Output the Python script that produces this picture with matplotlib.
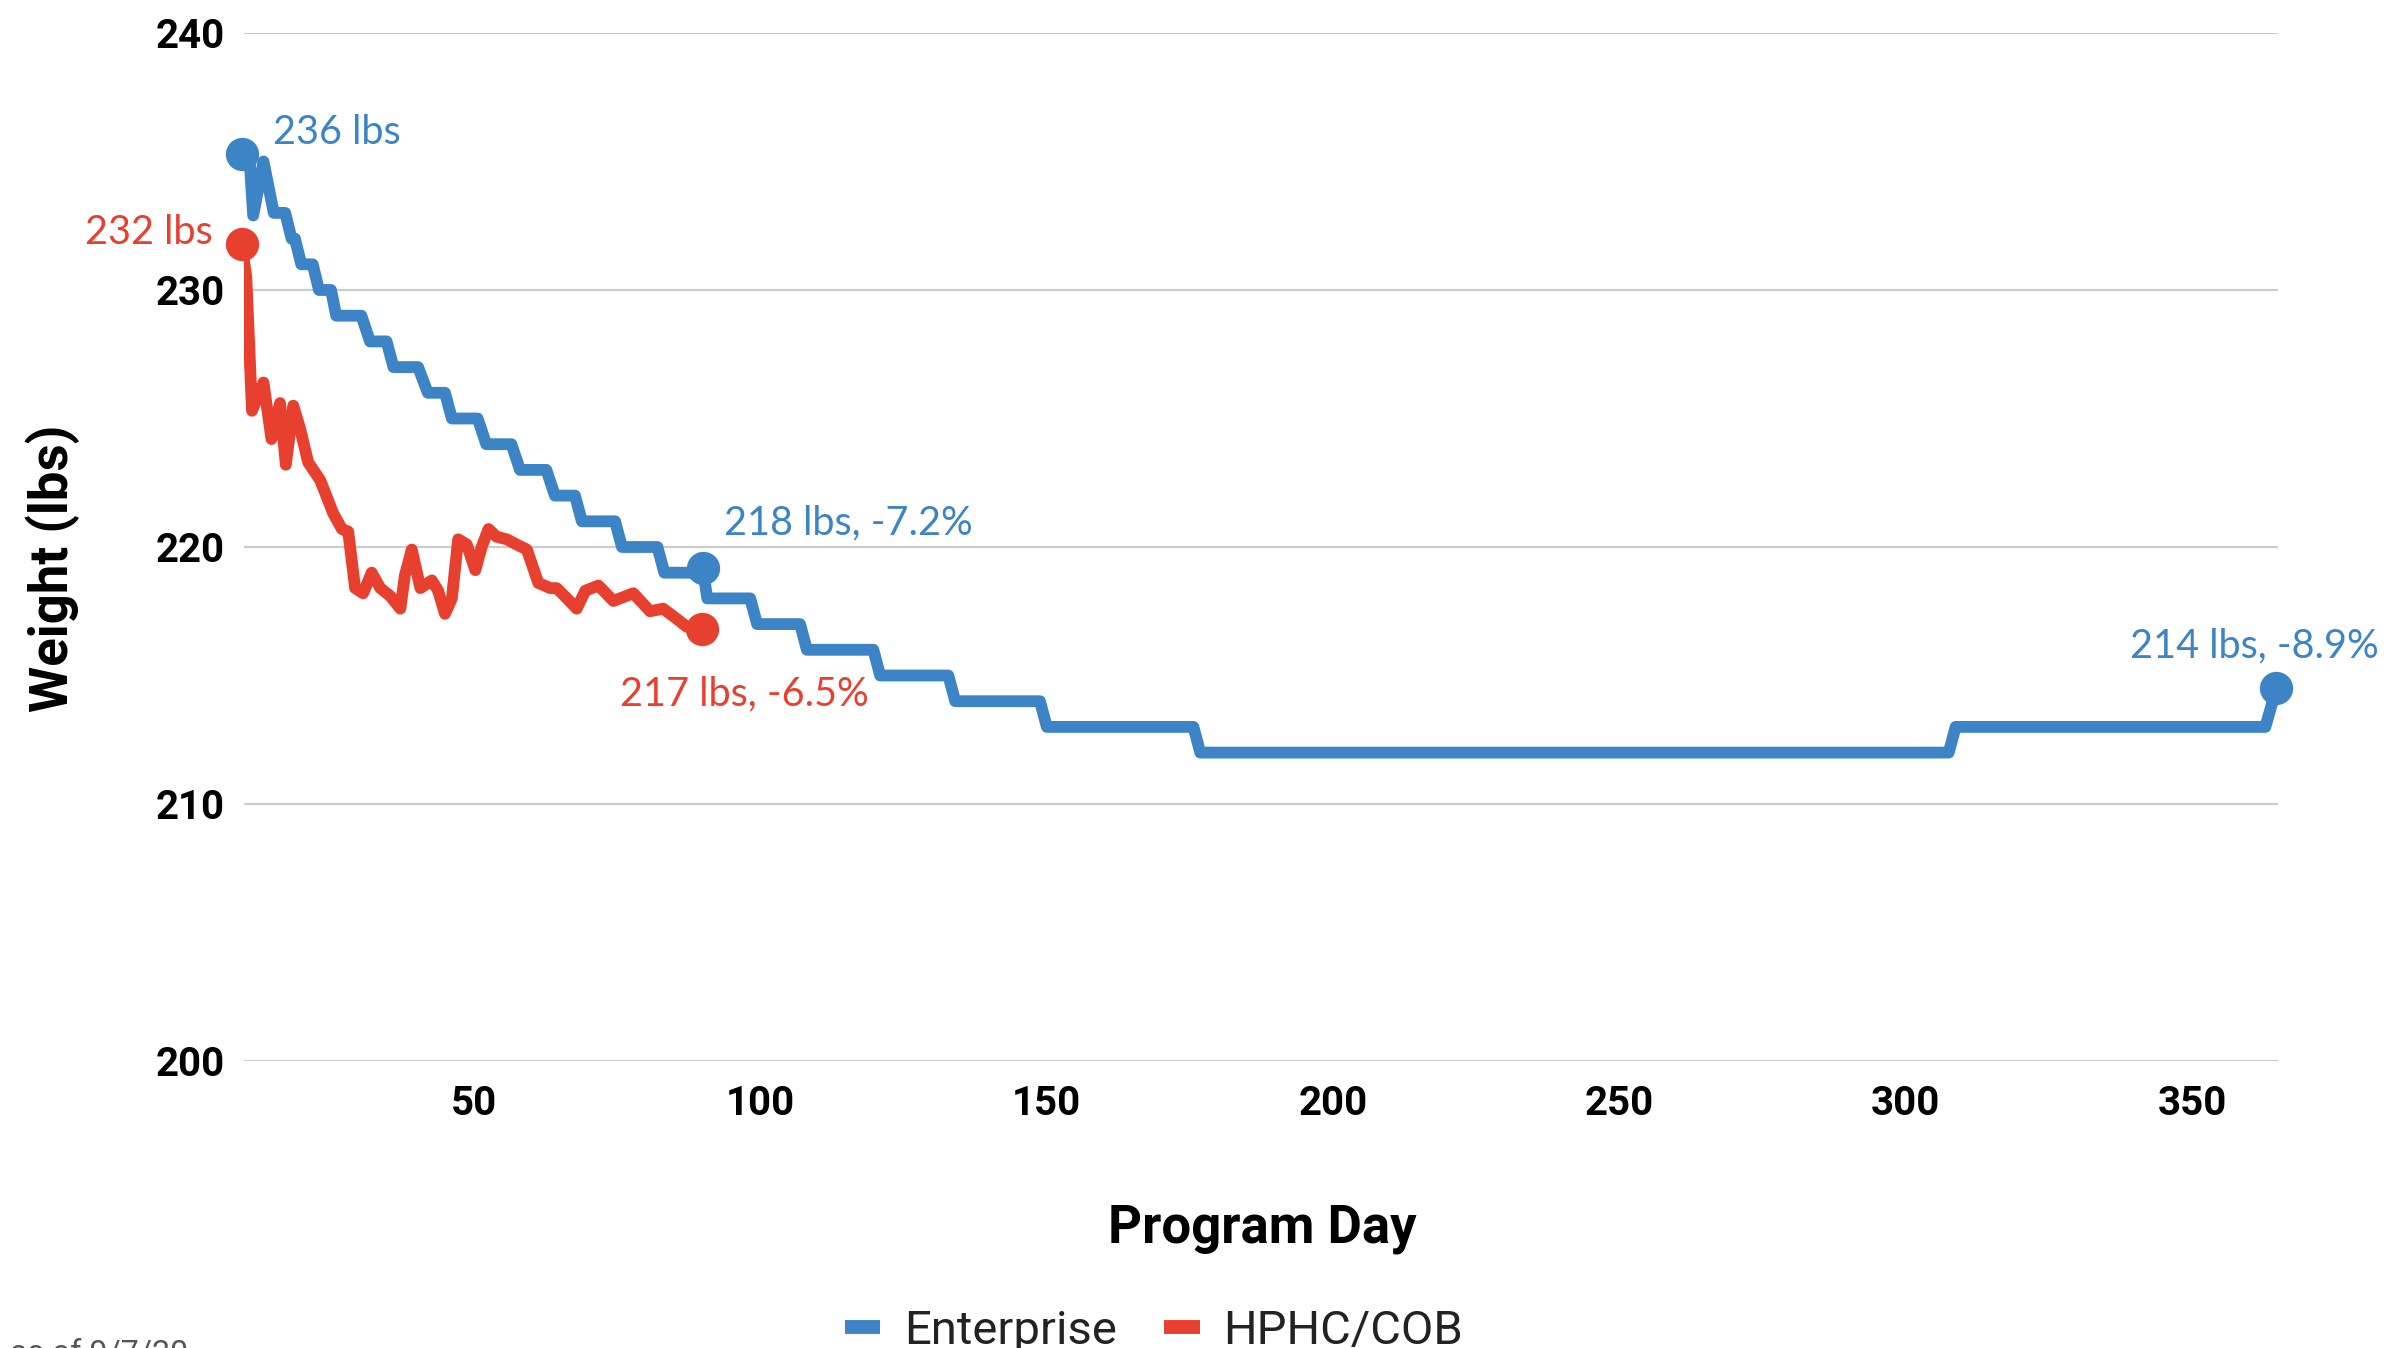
import matplotlib
matplotlib.use("Agg")
import matplotlib.pyplot as plt
from matplotlib.lines import Line2D

# Enterprise: daily weigh-ins (step-like)
ent_day = [9.4, 10.8, 11.4, 13.2, 15.0, 17.0, 18.1, 18.7, 19.8, 21.8, 22.9, 25.0,
           25.9, 30.3, 31.8, 34.7, 35.9, 40.2, 41.9, 44.9, 46.1, 50.6, 52.1, 56.5,
           58.0, 62.6, 64.1, 67.6, 68.8, 74.6, 75.8, 82.0, 83.2, 89.4, 89.9, 90.7,
           98.2, 99.4, 106.9, 108.1, 119.7, 120.9, 132.8, 134.0, 148.8, 150.0,
           175.6, 176.8, 307.5, 308.7, 362.8, 364.7]
ent_wt = [235.3, 235.0, 232.9, 235.0, 233.0, 233.0, 232.0, 232.0, 231.0, 231.0,
          230.0, 230.0, 229.0, 229.0, 228.0, 228.0, 227.0, 227.0, 226.0, 226.0,
          225.0, 225.0, 224.0, 224.0, 223.0, 223.0, 222.0, 222.0, 221.0, 221.0,
          220.0, 220.0, 219.0, 219.0, 219.2, 218.0, 218.0, 217.0, 217.0, 216.0,
          216.0, 215.0, 215.0, 214.0, 214.0, 213.0, 213.0, 212.0, 212.0, 213.0,
          213.0, 214.5]

# HPHC/COB
hp_day = [9.4, 10.2, 11.2, 13.2, 14.6, 16.1, 17.1, 18.4, 19.6, 21.0, 23.1, 25.4,
          26.9, 28.0, 29.2, 30.6, 32.1, 33.6, 35.3, 37.1, 37.9, 39.1, 40.6, 42.6,
          43.7, 44.9, 46.1, 47.2, 48.7, 50.2, 51.3, 52.5, 53.9, 55.7, 57.4, 59.2,
          61.2, 63.3, 64.4, 66.2, 67.9, 69.4, 71.7, 74.3, 77.8, 80.7, 83.0, 85.4,
          87.1, 89.7]
hp_wt = [231.8, 230.5, 225.3, 226.4, 224.2, 225.6, 223.2, 225.5, 224.6, 223.3,
         222.6, 221.3, 220.7, 220.6, 218.4, 218.2, 219.0, 218.4, 218.1, 217.6,
         218.9, 219.9, 218.4, 218.7, 218.3, 217.4, 218.0, 220.3, 220.1, 219.1,
         220.0, 220.7, 220.4, 220.3, 220.1, 219.9, 218.6, 218.4, 218.4, 218.0,
         217.6, 218.3, 218.5, 217.9, 218.2, 217.5, 217.6, 217.2, 216.9, 216.8]

series_names = ["Enterprise", "HPHC/COB"]
ent_labels = ["236 lbs", "218 lbs, -7.2%", "214 lbs, -8.9%"]
ent_label_idx = [0, 34, -1]
hp_labels = ["232 lbs", "217 lbs, -6.5%"]
hp_label_idx = [0, -1]

x_ticks = [50, 100, 150, 200, 250, 300, 350]
y_ticks = [200, 210, 220, 230, 240]

BLUE = "#3d84c6"
RED = "#e8402f"
W, H = 2390, 1348

plt.rcParams["font.family"] = "Roboto"

fig = plt.figure(figsize=(W / 100, H / 100), dpi=100)
ax = fig.add_axes([244 / W, 1 - 1061 / H, (2278 - 244) / W, (1061 - 33) / H])

ax.plot(ent_day, ent_wt, color=BLUE, lw=8.5, solid_joinstyle="round",
        solid_capstyle="round", zorder=3)
ax.plot(hp_day, hp_wt, color=RED, lw=8.5, solid_joinstyle="round",
        solid_capstyle="round", zorder=4)

for i in ent_label_idx:
    ax.plot(ent_day[i], ent_wt[i], "o", color=BLUE, ms=24, mew=0, zorder=5, clip_on=False)
for i in hp_label_idx:
    ax.plot(hp_day[i], hp_wt[i], "o", color=RED, ms=24, mew=0, zorder=5, clip_on=False)

ann_font = dict(family="Lato", fontsize=28.5)
# (text offsets in pixels from the point)
ent_offsets = [(31, 10, "left"), (21, 33, "left"), (102, 31, "right")]
hp_offsets = [(-29, 0, "right"), (-82, -76, "left")]
for lab, i, (dx, dy, ha) in zip(ent_labels, ent_label_idx, ent_offsets):
    ax.annotate(lab, (ent_day[i], ent_wt[i]), xytext=(dx, dy),
                textcoords="offset pixels", ha=ha, va="baseline",
                color=BLUE, annotation_clip=False, **ann_font)
for lab, i, (dx, dy, ha) in zip(hp_labels, hp_label_idx, hp_offsets):
    ax.annotate(lab, (hp_day[i], hp_wt[i]), xytext=(dx, dy),
                textcoords="offset pixels", ha=ha, va="baseline",
                color=RED, annotation_clip=False, **ann_font)

ax.set_xlim(9.8, 365)
ax.set_ylim(200, 240)
ax.set_xticks(x_ticks)
ax.set_yticks(y_ticks)
ax.tick_params(length=0, labelsize=29)
ax.tick_params(axis="x", pad=17)
ax.tick_params(axis="y", pad=14)
for t in ax.get_xticklabels() + ax.get_yticklabels():
    t.set_fontweight("bold")
ax.grid(axis="y", color="#cccccc", lw=1.6)
ax.set_axisbelow(True)
for s in ax.spines.values():
    s.set_visible(False)

fig.text(1262 / W, 1 - 1243 / H, "Program Day", ha="center", va="baseline",
         fontsize=38, fontweight="bold")
fig.text(53 / W, 1 - 568 / H, "Weight (lbs)", ha="center", va="center",
         rotation=90, fontsize=38, fontweight="bold")

handles = [Line2D([], [], color=BLUE, lw=10, solid_capstyle="butt"),
           Line2D([], [], color=RED, lw=10, solid_capstyle="butt")]
fig.legend(handles, series_names, loc="center", bbox_to_anchor=(1154 / W, 1 - 1331 / H),
           ncol=2, frameon=False, fontsize=34, handlelength=0.75,
           handletextpad=0.5, columnspacing=1.0, labelcolor="#222222")

fig.text(10 / W, 1 - 1338 / H, "as of 9/7/20", ha="left", va="top",
         fontsize=23, color="#555555")

fig.savefig("out.png", dpi=100)
